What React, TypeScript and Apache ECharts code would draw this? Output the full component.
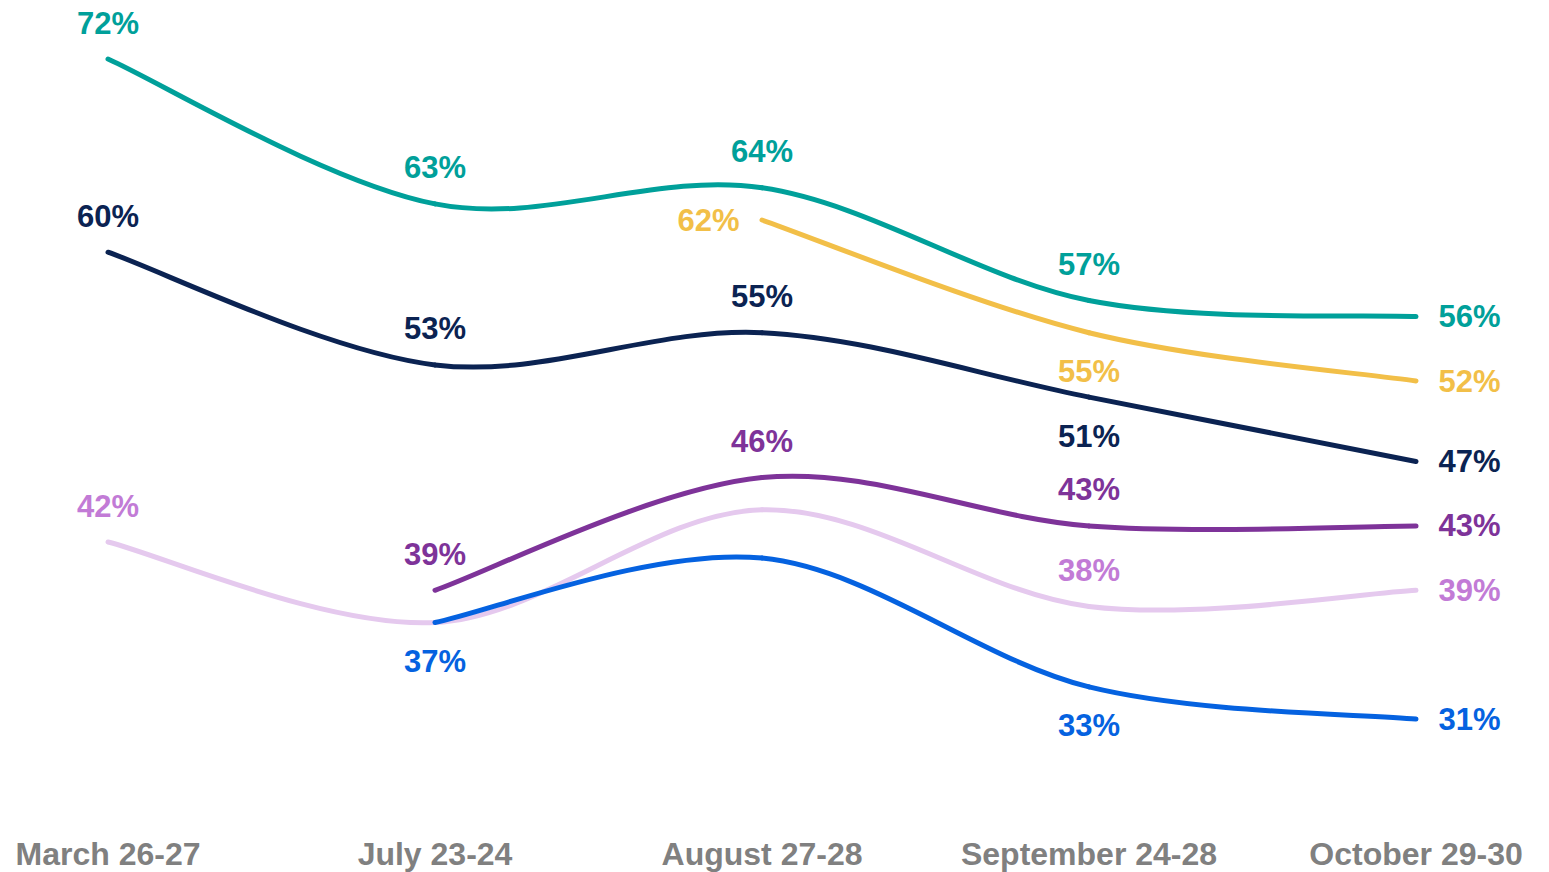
import React, { useEffect, useRef } from "react";
import * as echarts from "echarts";

const categories = ["March 26-27", "July 23-24", "August 27-28", "September 24-28", "October 29-30"];

const tealValues = [72, 63, 64, 57, 56];
const navyValues = [60, 53, 55, 51, 47];
const yellowValues = [null, null, 62, 55, 52];
const purpleValues = [null, 39, 46, 43, 43];
const lavenderValues = [42, 37, 44, 38, 39];
const blueValues = [null, 37, 41, 33, 31];

const tealLabels = ["top", "top", "top", "top", "right"];
const navyLabels = ["top", "top", "top", "bottom", "right"];
const yellowLabels = ["none", "none", "left", "bottom", "right"];
const purpleLabels = ["none", "top", "top", "top", "right"];
const lavenderLabels = ["top", "none", "none", "top", "right"];
const blueLabels = ["none", "bottom", "none", "bottom", "right"];

const FONT = "Arial, 'Liberation Sans', sans-serif";

const distanceFor: Record<string, number> = { top: 20, bottom: 23, right: 22, left: 22 };

function lineSeries(name: string, values: (number | null)[], color: string) {
  const data: number[][] = [];
  values.forEach((v, i) => {
    if (v !== null) data.push([i, v]);
  });
  return {
    name: name + " line",
    type: "custom",
    coordinateSystem: "cartesian2d",
    silent: true,
    data,
    encode: { x: 0, y: 1 },
    renderItem: (params: any, api: any) => {
      const i = api.value(0) as number;
      const pt = (k: number) => {
        const kk = k < 0 || k >= values.length || values[k] === null ? null : k;
        return kk === null ? null : api.coord([kk, values[kk]]);
      };
      const p1 = pt(i);
      const p2 = pt(i + 1);
      if (!p1 || !p2) return null;
      const p0 = pt(i - 1) || p1;
      const p3 = pt(i + 2) || p2;
      const t = 1 / 6;
      return {
        type: "bezierCurve",
        shape: {
          x1: p1[0],
          y1: p1[1],
          cpx1: p1[0] + (p2[0] - p0[0]) * t,
          cpy1: p1[1] + (p2[1] - p0[1]) * t,
          cpx2: p2[0] - (p3[0] - p1[0]) * t,
          cpy2: p2[1] - (p3[1] - p1[1]) * t,
          x2: p2[0],
          y2: p2[1],
        },
        style: { stroke: color, lineWidth: 5, fill: null, lineCap: "round" },
      };
    },
  };
}

function labelSeries(name: string, values: (number | null)[], positions: string[], labelColor: string) {
  const data: any[] = [];
  values.forEach((v, i) => {
    if (v === null) return;
    const pos = positions[i];
    data.push({
      value: [i, v],
      label: {
        show: pos !== "none",
        position: pos === "none" ? "top" : pos,
        distance: distanceFor[pos] ?? 20,
      },
    });
  });
  return {
    name: name + " labels",
    type: "scatter",
    symbol: "circle",
    symbolSize: 1,
    silent: true,
    itemStyle: { color: "rgba(255,255,255,0)", opacity: 1 },
    label: {
      show: true,
      opacity: 1,
      formatter: (p: any) => p.value[1] + "%",
      color: labelColor,
      fontFamily: FONT,
      fontWeight: "bold",
      fontSize: 31,
    },
    data,
  };
}

export default function App() {
  const ref = useRef<HTMLDivElement>(null);
  useEffect(() => {
    if (!ref.current) return;
    const chart = echarts.init(ref.current, undefined, { renderer: "svg" });
    const groups: [string, (number | null)[], string[], string, string][] = [
      ["Lavender", lavenderValues, lavenderLabels, "#E5C9EE", "#C27BD6"],
      ["Blue", blueValues, blueLabels, "#0562E0", "#0562E0"],
      ["Purple", purpleValues, purpleLabels, "#7E3399", "#7E3399"],
      ["Navy", navyValues, navyLabels, "#0B2352", "#0B2352"],
      ["Yellow", yellowValues, yellowLabels, "#F2BF48", "#F2BF48"],
      ["Teal", tealValues, tealLabels, "#00A09A", "#00A09A"],
    ];
    const series: any[] = [];
    groups.forEach(([n, v, , c]) => series.push(lineSeries(n, v, c)));
    groups.forEach(([n, v, pos, , lc]) => series.push(labelSeries(n, v, pos, lc)));
    chart.setOption({
      animation: false,
      backgroundColor: "#ffffff",
      grid: { left: 108, right: 133, top: 10.7, bottom: 56.3, containLabel: false },
      xAxis: {
        type: "category",
        data: categories,
        boundaryGap: false,
        axisLine: { show: false },
        axisTick: { show: false },
        splitLine: { show: false },
        axisLabel: {
          interval: 0,
          margin: 22,
          color: "#808080",
          fontFamily: FONT,
          fontWeight: "bold",
          fontSize: 32,
        },
      },
      yAxis: {
        type: "value",
        min: 25,
        max: 75,
        show: false,
        splitLine: { show: false },
      },
      series,
    });
    return () => chart.dispose();
  }, []);
  return (
    <div
      ref={ref}
      style={{ position: "fixed", left: 0, top: 0, width: 1549, height: 872, background: "#fff" }}
    />
  );
}
